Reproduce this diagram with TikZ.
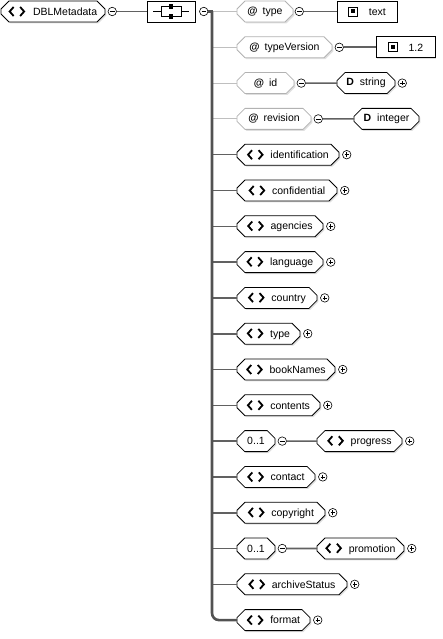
\documentclass[tikz,border=0pt]{standalone}
\usepackage{fontspec}
\setmainfont{Liberation Sans}
\usetikzlibrary{positioning, shapes.misc, shadows}

% 图标
\newcommand{\elicon}{\tikz[x=1pt,y=1pt,baseline=-3.8pt,line width=1.8pt]{\draw (4.5,4.5) -- (0.5,0) -- (4.5,-4.5); \draw (11,4.5) -- (15,0) -- (11,-4.5);}}
\newcommand{\valicon}{\tikz[x=1pt,y=1pt,baseline=-3.8pt]{\draw[line width=0.8pt] (-4.5,-4.5) rectangle (4.5,4.5); \fill[black] (-2,-2) rectangle (2,2);}}

\begin{document}
\begin{tikzpicture}[x=1pt, y=-1pt,
  box/.style={draw=black, fill=white, line width=0.8pt, minimum height=21, inner sep=0pt, outer sep=0pt,
    font=\fontsize{10.5}{12}\selectfont, drop shadow={shadow xshift=1.4pt, shadow yshift=-1.4pt, fill=black!25}},
  elem/.style={box, chamfered rectangle, chamfered rectangle xsep=4pt, chamfered rectangle ysep=4pt},
  attr/.style={elem, draw=black!30},
  valbox/.style={box, rectangle},
  knob/.style={circle, draw, fill=white, line width=0.6pt, minimum size=8.5, inner sep=0pt, outer sep=0pt},
  minus/.style={knob, path picture={\draw[line width=0.7pt] ([xshift=2pt]path picture bounding box.west) -- ([xshift=-2pt]path picture bounding box.east);}},
  plus/.style={knob, path picture={\draw[line width=0.7pt] ([xshift=2pt]path picture bounding box.west) -- ([xshift=-2pt]path picture bounding box.east);
    \draw[line width=0.7pt] ([yshift=-2pt]path picture bounding box.north) -- ([yshift=2pt]path picture bounding box.south);}},
  seqbox/.style={valbox, minimum width=48, path picture={
    \draw[line width=0.8pt] ([xshift=-18pt]path picture bounding box.center) -- ([xshift=18pt]path picture bounding box.center);
    \draw[line width=0.8pt, fill=white] ([xshift=-10pt,yshift=5pt]path picture bounding box.center) rectangle ([xshift=10pt,yshift=-5pt]path picture bounding box.center);
    \fill[black] ([xshift=-2.2pt,yshift=2.8pt]path picture bounding box.center) rectangle ([xshift=2.2pt,yshift=7.2pt]path picture bounding box.center);
    \fill[black] ([xshift=-2.2pt,yshift=-2.8pt]path picture bounding box.center) rectangle ([xshift=2.2pt,yshift=-7.2pt]path picture bounding box.center);}},
  attrline/.style={draw=black!25, line width=0.8pt},
  elline/.style={draw=black!62, line width=1.6pt},
  trunkline/.style={draw=black!68, line width=2.6pt}]
\useasboundingbox (0,0) rectangle (442,639);

% 根元素和序列
\node[elem, minimum width=104, anchor=west] (root) at (1,11.5) {\elicon\hspace{8pt}DBLMetadata};
\node[minus, right=3pt of root] (root-m) {};
\node[seqbox, anchor=west] (seq) at (147,11.5) {};
\node[minus, right=4.5pt of seq] (seq-m) {};
\coordinate (trunktop) at (212,11.5);
\draw[elline] (root-m) -- (seq);

% 属性
\node[attr, minimum width=56, anchor=west] (a-type) at (237,11.5) {\textbf{@}\hspace{5pt}type};
\node[minus, right=2pt of a-type] (a-type-m) {};
\node[valbox, minimum width=60, anchor=west] (v-text) at (337,11.5) {\valicon\hspace{11pt}text};
\draw[elline] (a-type-m) -- (v-text);

\node[attr, minimum width=95, anchor=west] (a-typeVersion) at (237,47.3) {\textbf{@}\hspace{5pt}typeVersion};
\node[minus, right=3pt of a-typeVersion] (a-typeVersion-m) {};
\node[valbox, minimum width=59, anchor=west] (v-version) at (376,47.3) {\valicon\hspace{11pt}1.2};
\draw[elline] (a-typeVersion-m) -- (v-version);

\node[attr, minimum width=57, anchor=west] (a-id) at (237,83.1) {\textbf{@}\hspace{5pt}id\hspace{12pt}};
\node[minus, right=3pt of a-id] (a-id-m) {};
\node[elem, minimum width=58, anchor=west] (d-string) at (337,83.1) {\textbf{D}\hspace{6pt}string};
\node[plus, right=3pt of d-string] (d-string-p) {};
\draw[elline] (a-id-m) -- (d-string);

\node[attr, minimum width=74, anchor=west] (a-revision) at (237,118.9) {\textbf{@}\hspace{5pt}revision};
\node[minus, right=3pt of a-revision] (a-revision-m) {};
\node[elem, minimum width=65, anchor=west] (d-integer) at (354,118.9) {\textbf{D}\hspace{6pt}integer};
\draw[elline] (a-revision-m) -- (d-integer);

% 子元素
\foreach \n/\w/\i in {identification/102/4, confidential/100/5, agencies/86/6, language/86/7,
    country/80/8, type/63/9, bookNames/98/10, contents/83/11, contact/78/13, copyright/88/14,
    archiveStatus/110/16, format/73/17} {
  \node[elem, minimum width=\w, anchor=west] (e-\n) at (237,{11.5+35.8*\i}) {\elicon\hspace{7pt}\n};
  \node[plus, right=3.5pt of e-\n] (e-\n-p) {};
}

% 可选元素
\foreach \n/\w/\i in {progress/85/12, promotion/87/15} {
  \node[elem, minimum width=38, anchor=west] (o-\n) at (237,{11.5+35.8*\i}) {0..1};
  \node[minus, right=3pt of o-\n] (o-\n-m) {};
  \node[elem, minimum width=\w, anchor=west] (e-\n) at (317,{11.5+35.8*\i}) {\elicon\hspace{7pt}\n};
  \node[plus, right=3.5pt of e-\n] (e-\n-p) {};
  \draw[elline] (o-\n-m) -- (e-\n);
}

% 连线
\foreach \a in {a-type, a-typeVersion, a-id, a-revision}
  \draw[attrline] (trunktop |- \a.west) -- (\a.west);
\foreach \e in {e-identification, e-confidential, e-agencies, e-language, e-country, e-type,
    e-bookNames, e-contents, o-progress, e-contact, e-copyright, o-promotion, e-archiveStatus}
  \draw[elline] (trunktop |- \e.west) -- (\e.west);
\draw[trunkline] (seq-m.east) -- ([xshift=1.3pt]trunktop);
\draw[trunkline, rounded corners=7pt] (trunktop) |- (e-format.west);
\end{tikzpicture}
\end{document}
